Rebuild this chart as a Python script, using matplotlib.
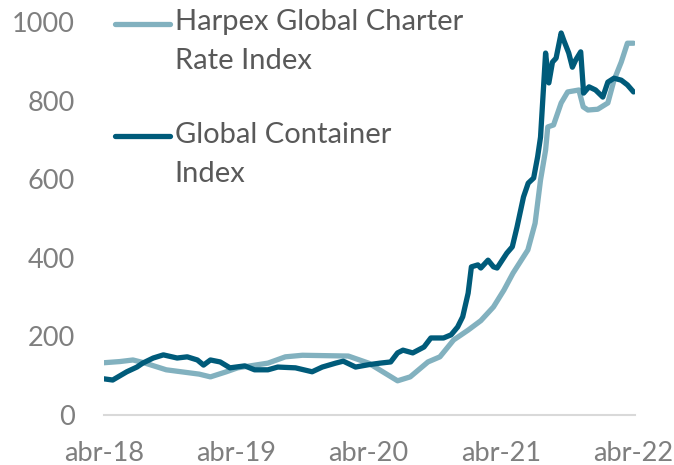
import numpy as np
import pandas as pd
import matplotlib
matplotlib.use('Agg')
import matplotlib.pyplot as plt
from matplotlib.legend_handler import HandlerLine2D

# Harpex Global Charter Rate Index
harpex_dates = ['2018-04-01', '2018-05-15', '2018-06-20', '2018-07-20', '2018-09-20',
                '2018-12-20', '2019-01-20', '2019-03-05', '2019-04-05', '2019-06-28',
                '2019-08-15', '2019-10-01', '2020-02-05', '2020-04-01', '2020-06-20',
                '2020-07-25', '2020-09-12', '2020-10-15', '2020-11-22', '2021-01-01',
                '2021-02-05', '2021-03-12', '2021-04-10', '2021-05-05', '2021-06-15',
                '2021-07-05', '2021-07-20', '2021-08-03', '2021-08-09', '2021-08-25',
                '2021-09-15', '2021-10-03', '2021-11-03', '2021-11-15', '2021-11-28',
                '2021-12-25', '2022-01-22', '2022-02-08', '2022-02-28', '2022-03-17',
                '2022-04-03']
harpex_values = [133, 136, 140, 133, 115,
                 104, 97, 110, 120, 132,
                 148, 152, 150, 132, 87,
                 97, 135, 148, 191, 216,
                 240, 275, 318, 361, 420,
                 488, 598, 674, 733, 738,
                 794, 822, 827, 784, 776,
                 778, 794, 852, 898, 946,
                 946]

# Global Container Index
gci_dates = ['2018-04-01', '2018-04-25', '2018-06-03', '2018-07-01', '2018-07-17',
             '2018-08-15', '2018-09-12', '2018-10-20', '2018-11-17', '2018-12-15',
             '2019-01-01', '2019-01-20', '2019-02-16', '2019-03-15', '2019-04-25',
             '2019-05-22', '2019-06-28', '2019-07-25', '2019-09-12', '2019-10-28',
             '2019-11-25', '2020-01-01', '2020-01-22', '2020-02-25', '2020-04-01',
             '2020-05-03', '2020-06-01', '2020-06-20', '2020-07-05', '2020-08-01',
             '2020-09-01', '2020-09-20', '2020-10-25', '2020-11-15', '2020-12-03',
             '2020-12-17', '2021-01-01', '2021-01-10', '2021-01-28', '2021-02-05',
             '2021-02-25', '2021-03-12', '2021-03-22', '2021-04-18', '2021-05-03',
             '2021-05-16', '2021-06-03', '2021-06-16', '2021-07-01', '2021-07-12',
             '2021-07-20', '2021-08-03', '2021-08-12', '2021-08-22', '2021-09-01',
             '2021-09-15', '2021-09-22', '2021-10-06', '2021-10-16', '2021-10-25',
             '2021-11-08', '2021-11-16', '2021-12-01', '2021-12-19', '2022-01-08',
             '2022-01-22', '2022-02-08', '2022-02-28', '2022-03-17', '2022-04-03']
gci_values = [92, 89, 110, 122, 132,
              145, 153, 145, 148, 140,
              127, 140, 135, 120, 125,
              115, 115, 122, 120, 110,
              122, 132, 137, 122, 128,
              132, 135, 158, 165, 158,
              173, 196, 196, 204, 224,
              250, 310, 377, 382, 374,
              394, 377, 374, 412, 428,
              478, 555, 590, 603, 657,
              707, 921, 845, 898, 908,
              972, 954, 921, 885, 903,
              924, 819, 835, 827, 809,
              847, 857, 852, 840, 822]

tick_dates = ['2018-04-01', '2019-04-01', '2020-04-01', '2021-04-01', '2022-04-01']
tick_labels = ['abr-18', 'abr-19', 'abr-20', 'abr-21', 'abr-22']
y_ticks = [0, 200, 400, 600, 800, 1000]

plt.rcParams['font.family'] = ['Lato', 'DejaVu Sans']

light = '#82b1bf'
dark = '#005b7a'


class TopLineHandler(HandlerLine2D):
    # put the legend key next to the first line of a two-line label
    def __init__(self, shift, **kw):
        super().__init__(**kw)
        self.shift = shift

    def create_artists(self, legend, orig_handle, xdescent, ydescent, width,
                       height, fontsize, trans):
        arts = super().create_artists(legend, orig_handle, xdescent, ydescent,
                                      width, height, fontsize, trans)
        for a in arts:
            a.set_ydata(np.asarray(a.get_ydata()) + self.shift)
        return arts


fig = plt.figure(figsize=(6.74, 4.65), dpi=100)
ax = fig.add_axes([104 / 674, 50 / 465, 531 / 674, 393 / 465])

h1, = ax.plot(pd.to_datetime(harpex_dates), harpex_values, color=light, lw=3.8,
              solid_capstyle='round', solid_joinstyle='round',
              label='Harpex Global Charter\nRate Index')
h2, = ax.plot(pd.to_datetime(gci_dates), gci_values, color=dark, lw=3.8,
              solid_capstyle='round', solid_joinstyle='round',
              label='Global Container\nIndex')

ax.set_ylim(0, 1000)
ax.set_xlim(pd.Timestamp('2018-04-01'), pd.Timestamp('2022-04-07'))
ax.set_yticks(y_ticks)
ax.set_xticks(pd.to_datetime(tick_dates))
ax.set_xticklabels(tick_labels)

for s in ['top', 'right', 'left']:
    ax.spines[s].set_visible(False)
ax.spines['bottom'].set_color('#d9d9d9')
ax.spines['bottom'].set_linewidth(1.5)
ax.tick_params(axis='both', length=0, labelsize=19.5, colors='#7f7f7f')
ax.tick_params(axis='y', pad=21)
ax.tick_params(axis='x', pad=19)

leg = ax.legend(handles=[h1, h2], loc='upper left', bbox_to_anchor=(115 / 674, 1 - 9 / 465),
                bbox_transform=fig.transFigure, frameon=False, fontsize=21,
                handlelength=1.9, handletextpad=0.15, labelspacing=1.62, borderpad=0,
                borderaxespad=0,
                handler_map={h1: TopLineHandler(13.2), h2: TopLineHandler(13.2)})
for t in leg.get_texts():
    t.set_color('#595959')
    t.set_linespacing(1.64)

fig.savefig('out.png', dpi=100)
